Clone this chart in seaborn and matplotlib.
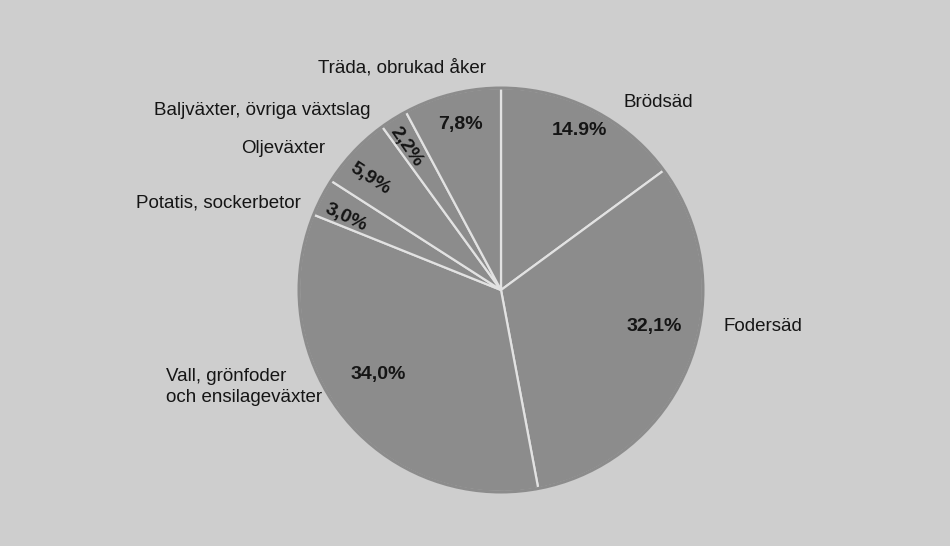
import matplotlib
matplotlib.use('Agg')
import matplotlib.pyplot as plt
import seaborn as sns

# share of arable land, %
categories = ['Brödsäd', 'Fodersäd', 'Vall, grönfoder\noch ensilageväxter',
              'Potatis, sockerbetor', 'Oljeväxter',
              'Baljväxter, övriga växtslag', 'Träda, obrukad åker']
shares = [14.9, 32.1, 34.0, 3.0, 5.9, 2.2, 7.8]
pct_labels = ['14.9%', '32,1%', '34,0%', '3,0%', '5,9%', '2,2%', '7,8%']

# layout of the texts (pie radius = 1)
name_pos = [(0.78, 0.93, 'center'), (1.10, -0.18, 'left'), (-1.66, -0.48, 'left'),
            (-1.40, 0.43, 'center'), (-1.08, 0.70, 'center'),
            (-1.18, 0.89, 'center'), (-0.49, 1.10, 'center')]
pct_pos = [(0.39, 0.79), (0.76, -0.18), (-0.61, -0.42), (-0.77, 0.36),
           (-0.65, 0.55), (-0.47, 0.71), (-0.20, 0.82)]
pct_rot = [0, 0, 0, -25, -33, -55, 0]

sns.set_style('white')
plt.rcParams['font.family'] = ['Liberation Sans', 'DejaVu Sans']

bg = '#cecece'
fill = '#8c8c8c'
fig = plt.figure(figsize=(9.5, 5.46), dpi=100, facecolor=bg)
ax = fig.add_axes([297 / 950, 52 / 546, 408 / 950, 408 / 546])
ax.set_facecolor(bg)

ax.pie(shares, startangle=90, counterclock=False, radius=1,
       colors=[fill] * len(shares),
       wedgeprops=dict(edgecolor='#e2e2e2', linewidth=1.6))
# hide the light outline along the rim, only the dividers are light
ax.add_patch(plt.Circle((0, 0), 1.0, fill=False, edgecolor=fill, linewidth=2.2))

for name, (x, y, ha) in zip(categories, name_pos):
    ax.text(x, y, name, ha=ha, va='center', fontsize=13.5, color='#151515',
            linespacing=1.25)

for lab, (x, y), rot in zip(pct_labels, pct_pos, pct_rot):
    ax.text(x, y, lab, ha='center', va='center', fontsize=14, fontweight='bold',
            color='#151515', rotation=rot)

ax.set_xlim(-1.01, 1.01)
ax.set_ylim(-1.01, 1.01)
ax.set_aspect('equal')
ax.axis('off')

fig.savefig('out.png', dpi=100, facecolor=bg)
